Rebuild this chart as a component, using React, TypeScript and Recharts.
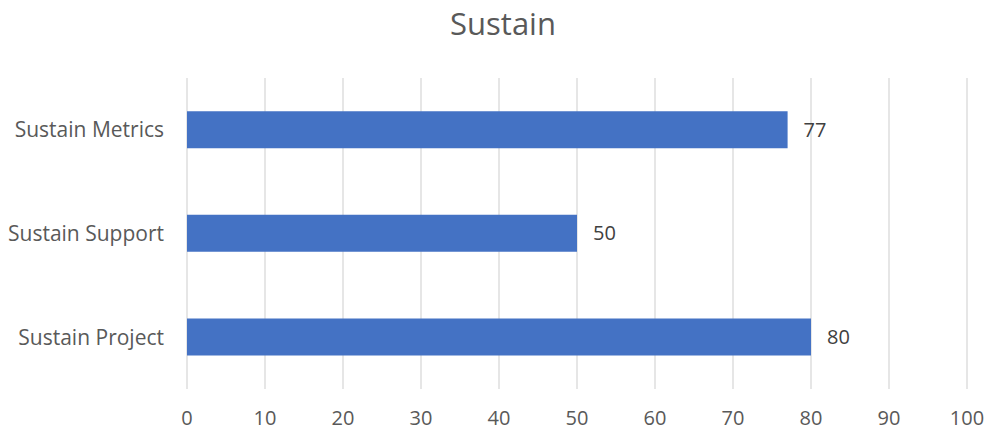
import React from "react";
import {
  Bar,
  BarChart,
  CartesianGrid,
  LabelList,
  XAxis,
  YAxis,
} from "recharts";

const categories = ["Sustain Metrics", "Sustain Support", "Sustain Project"];
const scores = [77, 50, 80];
const xTicks = [0, 10, 20, 30, 40, 50, 60, 70, 80, 90, 100];

const data = categories.map((name, i) => ({ name, value: scores[i] }));

const font = "'Open Sans', sans-serif";

const App = () => {
  return (
    <div
      style={{
        position: "absolute",
        left: 0,
        top: 0,
        width: 990,
        height: 431,
        background: "#fff",
        fontFamily: font,
      }}
    >
      <div
        style={{
          position: "absolute",
          top: 8,
          left: 0,
          width: 1006,
          textAlign: "center",
          fontSize: 31,
          lineHeight: 1,
          color: "#595959",
        }}
      >
        Sustain
      </div>
      <BarChart
        width={990}
        height={431}
        layout="vertical"
        data={data}
        margin={{ top: 78, right: 23, bottom: 0, left: 0 }}
        barCategoryGap="32%"
      >
        <CartesianGrid
          horizontal={false}
          stroke="#d9d9d9"
          strokeWidth={1.3}
        />
        <XAxis
          type="number"
          domain={[0, 100]}
          ticks={xTicks}
          interval={0}
          axisLine={false}
          tickLine={false}
          height={42}
          tickMargin={16}
          tick={{ fill: "#595959", fontSize: 20, fontFamily: font }}
        />
        <YAxis
          type="category"
          dataKey="name"
          width={187}
          axisLine={false}
          tickLine={false}
          tickMargin={17}
          tick={{ fill: "#595959", fontSize: 21, fontFamily: font }}
        />
        <Bar dataKey="value" fill="#4472C4" isAnimationActive={false}>
          <LabelList
            dataKey="value"
            position="right"
            offset={16}
            fill="#404040"
            fontSize={20}
            fontFamily={font}
          />
        </Bar>
      </BarChart>
    </div>
  );
};

export default App;
